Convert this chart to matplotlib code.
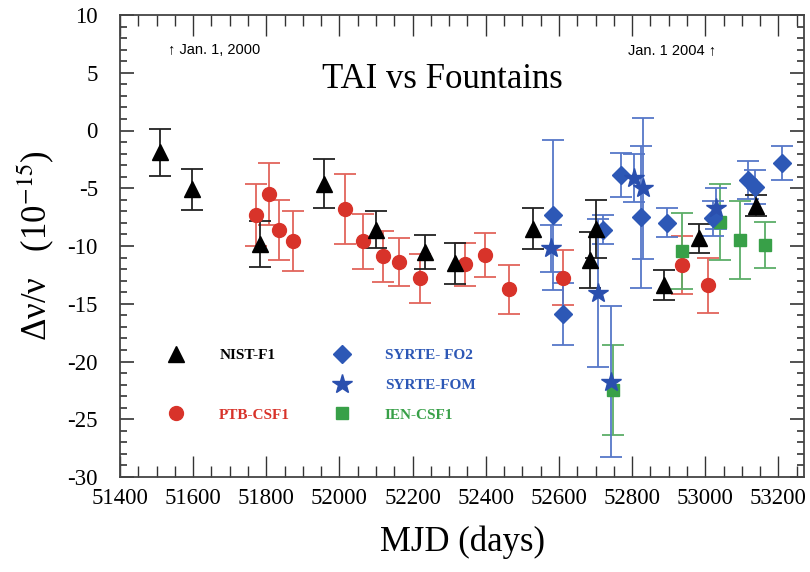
import matplotlib
matplotlib.use('Agg')
import matplotlib.pyplot as plt
from matplotlib.lines import Line2D
from matplotlib.ticker import MultipleLocator

# NIST-F1
nist_mjd = [51510, 51596, 51783, 51957, 52100, 52233, 52316, 52528, 52686, 52701, 52887, 52982, 53140]
nist_val = [-1.9, -5.1, -9.8, -4.6, -8.6, -10.5, -11.5, -8.5, -11.2, -8.5, -13.4, -9.35, -6.5]
nist_err = [2.0, 1.8, 2.0, 2.1, 1.6, 1.45, 1.75, 1.8, 2.45, 2.5, 1.3, 1.25, 0.9]

# PTB-CSF1
ptb_mjd = [51773, 51806, 51834, 51872, 52016, 52064, 52120, 52164, 52219, 52343, 52397, 52464, 52612, 52936, 53007]
ptb_val = [-7.3, -5.5, -8.6, -9.6, -6.8, -9.6, -10.9, -11.4, -12.8, -11.6, -10.8, -13.75, -12.75, -11.65, -13.4]
ptb_err = [2.7, 2.7, 2.6, 2.6, 3.0, 2.4, 2.2, 2.1, 2.1, 1.9, 1.9, 2.1, 2.4, 2.5, 2.4]

# SYRTE-FO2
fo2_mjd = [52583, 52612, 52720, 52771, 52825, 52896, 53021, 53117, 53137, 53211]
fo2_val = [-7.3, -15.9, -8.6, -3.85, -7.5, -8.0, -7.6, -4.3, -4.9, -2.8]
fo2_err = [6.5, 2.7, 1.25, 1.9, 6.15, 1.25, 1.5, 1.65, 1.5, 1.45]

# SYRTE-FOM
fom_mjd = [52578, 52706, 52742, 52806, 52829, 53030]
fom_val = [-10.2, -14.1, -21.75, -4.1, -5.0, -6.75]
fom_err = [2.05, 6.4, 6.55, 2.1, 6.1, 1.75]

# IEN-CSF1
ien_mjd = [52747, 52936, 53039, 53094, 53164]
ien_val = [-22.5, -10.4, -7.9, -9.5, -9.9]
ien_err = [3.9, 3.3, 3.3, 3.4, 2.0]

plt.rcParams['font.family'] = ['Liberation Serif', 'DejaVu Serif']
plt.rcParams['mathtext.fontset'] = 'stix'
plt.rcParams['axes.unicode_minus'] = False

fig = plt.figure(figsize=(8.1, 5.72), dpi=100)
ax = fig.add_axes([120 / 810, 1 - 477 / 572, 684 / 810, 462 / 572])

eb = dict(capsize=8, elinewidth=1.3, capthick=1.3, linestyle='none')
ax.errorbar(ptb_mjd, ptb_val, yerr=ptb_err, fmt='o', ms=10, color='#d8332a',
            ecolor='#e2645c', **eb)
ax.errorbar(ien_mjd, ien_val, yerr=ien_err, fmt='s', ms=8.5, color='#38a048',
            ecolor='#5cae68', **eb)
ax.errorbar(fo2_mjd, fo2_val, yerr=fo2_err, fmt='D', ms=9.5, color='#2d58b6',
            ecolor='#5677c8', **eb)
ax.errorbar(fom_mjd, fom_val, yerr=fom_err, fmt='*', ms=15, color='#2a4fae',
            ecolor='#5677c8', **eb)
ax.errorbar(nist_mjd, nist_val, yerr=nist_err, fmt='^', ms=11, color='black',
            ecolor='#222222', **eb)

ax.set_xlim(51400, 53270)
ax.set_ylim(-30, 10)
ax.xaxis.set_major_locator(MultipleLocator(200))
ax.xaxis.set_minor_locator(MultipleLocator(50))
ax.yaxis.set_major_locator(MultipleLocator(5))
ax.yaxis.set_minor_locator(MultipleLocator(1))
ax.tick_params(axis='x', which='major', direction='in', length=15, width=1,
               top=True, labelsize=16.5, pad=8, color='#333333')
ax.tick_params(axis='x', which='minor', direction='in', length=8, width=1,
               top=True, color='#333333')
ax.tick_params(axis='y', which='major', direction='in', length=10, width=1.2,
               right=True, labelsize=16.5, pad=16, color='#333333')
ax.tick_params(axis='y', which='minor', direction='in', length=5, width=1.2,
               right=True, color='#333333')
for s in ax.spines.values():
    s.set_linewidth(1.3)
    s.set_color('#444444')

ax.set_xlabel('MJD (days)', fontsize=25, labelpad=12)
ax.set_ylabel('\u0394\u03bd/\u03bd   (10$^{-15}$)', fontsize=25, labelpad=8)

ax.text(52282, 4.4, 'TAI vs Fountains', fontsize=25, ha='center', va='center')
ax.text(51530, 7.0, '\u2191 Jan. 1, 2000', fontsize=10.5, ha='left', va='center',
        family=['Liberation Sans', 'DejaVu Sans'])
ax.text(53030, 7.0, 'Jan. 1 2004 \u2191', fontsize=10.5, ha='right', va='center',
        family=['Liberation Sans', 'DejaVu Sans'])

handles = [
    Line2D([], [], marker='^', ms=11, color='black', ls='none'),
    Line2D([], [], ls='none'),
    Line2D([], [], marker='o', ms=10, color='#d8332a', ls='none'),
    Line2D([], [], marker='D', ms=9.5, color='#2d58b6', ls='none'),
    Line2D([], [], marker='*', ms=15, color='#2a4fae', ls='none'),
    Line2D([], [], marker='s', ms=8.5, color='#38a048', ls='none'),
]
labels = ['NIST-F1', ' ', 'PTB-CSF1', 'SYRTE- FO2', 'SYRTE-FOM', 'IEN-CSF1']
colors = ['black', 'black', '#d8332a', '#2d58b6', '#2d58b6', '#38a048']
leg = ax.legend(handles, labels, ncol=2, frameon=False, loc='lower left',
                bbox_to_anchor=(0.04, 0.09), prop={'weight': 'bold', 'size': 11},
                handletextpad=1.8, columnspacing=2.4, labelspacing=1.05)
for t, c in zip(leg.get_texts(), colors):
    t.set_color(c)

fig.savefig('out.png', dpi=100)
